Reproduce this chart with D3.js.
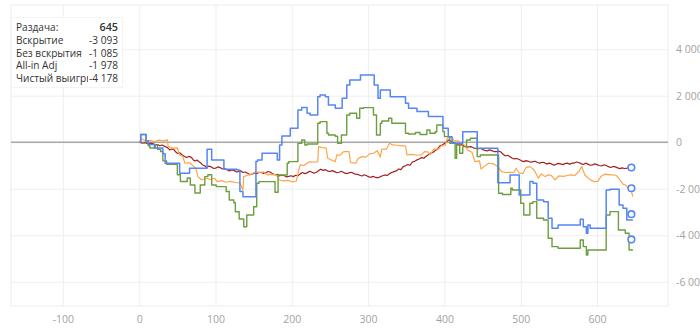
<!DOCTYPE html>
<html>
<head>
<meta charset="utf-8">
<script src="https://cdn.jsdelivr.net/npm/d3@7.9.0/dist/d3.min.js"></script>
<style>
  html, body { margin: 0; padding: 0; background: #fff; }
  #wrap { position: relative; width: 700px; height: 334px; overflow: hidden; }
  svg { display: block; }
  .axis text { font-family: "Liberation Sans Narrow", "Open Sans", sans-serif; font-size: 10.5px; fill: #a3a3a3; }
  .axis path { display: none; }
  .grid line { stroke: #efefef; stroke-width: 1; }
  .grid path { display: none; }
  .legend {
    position: absolute; left: 11px; top: 17px; width: 112px; height: 71px;
    background: rgba(255,255,255,0.85); border: 1px solid #f3f3f3; box-sizing: border-box;
    font-family: "Open Sans", sans-serif; font-size: 10.1px; color: #333; line-height: 12.8px;
    padding-top: 3px;
  }
  .legend .row { display: flex; height: 12.8px; }
  .legend .lab { width: 72px; flex: none; margin-left: 4px; overflow: hidden; white-space: nowrap; }
  .legend .val { flex: 1; text-align: right; padding-right: 4px; white-space: nowrap; }
  .legend .row:first-child .val { font-weight: 600; font-size: 10.8px; }
</style>
</head>
<body>
<div id="wrap">
<svg id="chart" width="700" height="334"></svg>
<div class="legend" id="legend"></div>
</div>
<script>
// tick labels
const xTicks = [-100, 0, 100, 200, 300, 400, 500, 600];
const yTicks = [-6000, -4000, -2000, 0, 2000, 4000];

// legend table
const legendLabels = ["Раздача:", "Вскрытие", "Без вскрытия", "All-in Adj", "Чистый выигрыш"];
const legendValues = [645, -3093, -1085, -1978, -4178];

// end markers (hand, value)
const markerHand = 645;
const markerValues = [-1085, -1978, -3093, -4178];

// series: [hand, cumulative value]
const showdown = [
  [0, 0], [2, 330], [9, 60], [12, -100], [20, -250], [31, -500], [34, -900], [50, -900],
  [53, -1330], [64, -1330], [66, -1120], [89, -300], [95, -760], [111, -1160], [128, -1190],
  [132, -2120], [136, -2340], [153, -830], [155, -760], [161, -475], [181, -760], [184, -116],
  [187, 271], [198, 602], [208, 1390], [213, 1490], [220, 1250], [224, 1174], [234, 1960],
  [237, 2034], [244, 1960], [248, 1604], [257, 1461], [266, 1891], [272, 2464], [276, 2679],
  [290, 2894], [308, 2464], [313, 1891], [316, 2249], [329, 1961], [349, 1677], [353, 1461],
  [364, 1318], [379, 1103], [398, 602], [405, 241], [410, -43], [424, 456], [443, -258],
  [470, -1737], [486, -1406], [498, -2266], [512, -1693], [516, -1763], [521, -2481],
  [530, -2553], [536, -3268], [541, -3698], [549, -3556], [578, -3311], [582, -3629],
  [586, -3913], [588, -3556], [591, -3698], [612, -2051], [617, -2021], [629, -2696],
  [634, -2838], [639, -3341], [647, -3341]
];

const netWon = [
  [0, 0], [2, 330], [9, 0], [12, -150], [14, -250], [21, -116], [24, -300], [28, -400],
  [31, -800], [36, -950], [50, -1400], [54, -1690], [63, -1540], [67, -1840], [73, -2180],
  [80, -1840], [86, -1480], [90, -1400], [95, -1840], [101, -1910], [114, -2120], [118, -2480],
  [124, -2600], [126, -2985], [131, -3300], [137, -3630], [141, -3126], [150, -2770],
  [154, -1763], [157, -1693], [178, -2150], [182, -1406], [194, -903], [196, -834], [208, -43],
  [213, 99], [217, -116], [220, -73], [234, 817], [237, 886], [246, 387], [248, 314], [257, 260],
  [260, -43], [265, 314], [272, 1174], [276, 1247], [285, 1032], [289, 1461], [294, 1490],
  [307, 1174], [311, 314], [316, 817], [318, 915], [327, 1032], [331, 817], [349, 387],
  [353, 357], [362, 420], [368, 330], [377, 529], [381, 387], [388, 450], [390, 744], [398, 456],
  [400, 241], [407, -43], [414, -688], [416, -116], [420, -473], [424, -189], [429, 99],
  [434, 172], [443, -619], [447, -546], [471, -2193], [476, -2245], [487, -1978], [489, -2051],
  [500, -2623], [504, -3126], [512, -2623], [516, -2553], [521, -3268], [530, -3341],
  [536, -4128], [541, -4489], [549, -4558], [578, -4201], [582, -4489], [586, -4846],
  [588, -4631], [612, -3126], [617, -2984], [628, -3771], [637, -3913], [642, -4631], [647, -4631]
];

const allInAdj = [
  [0, 0], [3, 150], [8, 60], [14, 80], [20, 30], [26, 90], [32, 60], [37, 100], [38, -189],
  [44, -250], [50, -245], [53, -546], [57, -600], [60, -903], [66, -880], [70, -1000],
  [74, -1105], [77, -1480], [82, -1621], [88, -1550], [94, -1600], [99, -1550], [102, -1693],
  [108, -1650], [114, -1720], [120, -1680], [126, -1730], [132, -1750], [136, -2051],
  [137, -1478], [142, -1420], [147, -1380], [152, -1277], [158, -1300], [163, -1277],
  [168, -1406], [175, -1380], [180, -1406], [183, -1600], [188, -1665], [195, -1640],
  [200, -1700], [206, -1665], [208, -1333], [211, -976], [216, -1000], [220, -900], [224, -834],
  [230, -860], [234, -834], [235, -189], [240, -230], [245, -250], [247, -688], [252, -761],
  [257, -834], [259, -546], [263, -560], [268, -404], [275, -404], [277, -880], [284, -900],
  [287, -688], [292, -619], [297, -640], [302, -500], [307, -473], [312, -370], [316, -640],
  [318, -290], [324, -300], [328, -43], [332, -116], [338, -130], [344, -160], [349, -150],
  [351, -546], [358, -520], [364, -560], [370, -546], [374, -404], [379, -420], [381, -546],
  [386, -290], [392, -300], [396, -160], [401, -140], [404, 172], [409, 241], [413, 56],
  [418, 60], [422, -43], [426, -116], [431, -350], [436, -430], [440, -834], [446, -800],
  [448, -1150], [452, -1049], [458, -903], [464, -920], [470, -1049], [475, -1264], [480, -1300],
  [487, -1290], [491, -1300], [494, -1118], [498, -1333], [503, -1340], [507, -1084],
  [512, -1049], [516, -1150], [519, -1277], [523, -1548], [527, -1363], [532, -1478],
  [536, -1400], [540, -1420], [545, -1621], [550, -1450], [556, -1470], [561, -1430],
  [566, -1400], [571, -1430], [576, -1264], [580, -1049], [584, -1406], [590, -1587],
  [596, -1693], [601, -1680], [605, -1478], [610, -1372], [615, -1390], [620, -1406],
  [625, -1420], [630, -1621], [634, -1802], [638, -1850], [641, -1978], [644, -2000], [647, -2337]
];

const nonShowdown = [
  [0, 0], [4, -43], [8, -20], [12, -80], [15, -40], [18, -60], [21, -110], [24, -100],
  [27, -150], [30, -120], [34, -189], [37, -230], [40, -331], [43, -290], [45, -300],
  [48, -420], [50, -480], [53, -450], [56, -540], [59, -600], [62, -653], [65, -610],
  [68, -640], [71, -760], [73, -804], [76, -770], [78, -830], [81, -900], [83, -976],
  [86, -1010], [88, -1084], [91, -1030], [94, -1050], [97, -1120], [100, -1118], [103, -1060],
  [106, -1090], [109, -1150], [112, -1130], [115, -1180], [118, -1234], [121, -1190],
  [124, -1210], [127, -1270], [130, -1264], [133, -1230], [136, -1300], [139, -1280],
  [142, -1333], [145, -1390], [148, -1370], [151, -1320], [154, -1350], [157, -1290],
  [160, -1300], [163, -1340], [166, -1310], [169, -1260], [172, -1290], [175, -1360],
  [178, -1400], [181, -1380], [184, -1450], [187, -1410], [190, -1430], [193, -1490],
  [196, -1470], [199, -1440], [202, -1478], [205, -1420], [208, -1440], [211, -1360],
  [214, -1300], [217, -1350], [220, -1320], [223, -1250], [226, -1280], [229, -1330],
  [232, -1300], [235, -1220], [238, -1157], [241, -1210], [244, -1180], [247, -1240],
  [250, -1256], [253, -1220], [256, -1264], [259, -1310], [262, -1290], [265, -1250],
  [268, -1300], [271, -1350], [274, -1330], [277, -1290], [280, -1320], [283, -1370],
  [286, -1380], [289, -1420], [292, -1450], [295, -1400], [298, -1440], [301, -1490],
  [304, -1500], [307, -1470], [310, -1514], [313, -1530], [316, -1480], [319, -1440],
  [322, -1406], [325, -1430], [328, -1350], [331, -1300], [334, -1264], [337, -1230],
  [340, -1150], [343, -1180], [346, -1050], [349, -1010], [352, -960], [355, -990],
  [358, -850], [361, -820], [364, -760], [367, -720], [370, -660], [373, -690], [376, -600],
  [379, -540], [382, -470], [385, -440], [388, -350], [391, -290], [394, -150], [397, -120],
  [400, -50], [403, 20], [405, 99], [409, 40], [414, -43], [417, -90], [420, -120],
  [423, -100], [426, -160], [429, -210], [432, -200], [435, -190], [438, -240], [441, -270],
  [444, -290], [447, -260], [450, -310], [453, -350], [456, -374], [459, -330], [462, -360],
  [465, -400], [468, -404], [471, -380], [474, -420], [477, -520], [480, -590], [483, -560],
  [486, -620], [489, -690], [492, -718], [495, -700], [498, -740], [501, -800], [504, -834],
  [507, -790], [510, -820], [513, -860], [516, -834], [519, -820], [522, -870], [525, -900],
  [528, -860], [531, -880], [534, -940], [537, -900], [540, -930], [543, -980], [546, -960],
  [549, -910], [552, -933], [555, -960], [558, -920], [561, -900], [564, -940], [567, -910],
  [570, -890], [573, -850], [576, -870], [579, -920], [582, -955], [585, -900], [588, -940],
  [591, -990], [594, -976], [597, -930], [600, -960], [603, -1000], [606, -1020], [609, -970],
  [612, -1000], [615, -1050], [618, -1084], [621, -1040], [624, -1060], [627, -1100],
  [630, -1135], [633, -1100], [636, -1130], [640, -1110], [644, -1049], [647, -1060]
];

const plot = { left: 11, right: 668, top: 5, bottom: 306 };

const svg = d3.select("#chart");

const x = d3.scaleLinear().domain([-168, 693]).range([plot.left, plot.right]);
const y = d3.scaleLinear().domain([-7040, 5900]).range([plot.bottom, plot.top]);

const locale = d3.formatLocale({ decimal: ",", thousands: "\u00a0", grouping: [3], currency: ["", ""], minus: "-" });
const fmt = locale.format(",d");

// grid
svg.append("g")
  .attr("class", "grid")
  .attr("transform", `translate(0,${plot.bottom})`)
  .call(d3.axisBottom(x).tickValues(xTicks).tickSize(-(plot.bottom - plot.top)).tickFormat(""));

svg.append("g")
  .attr("class", "grid")
  .attr("transform", `translate(${plot.left},0)`)
  .call(d3.axisRight(y).tickValues(yTicks).tickSize(plot.right - plot.left).tickFormat(""));

svg.append("rect")
  .attr("x", plot.left)
  .attr("y", plot.top)
  .attr("width", plot.right - plot.left)
  .attr("height", plot.bottom - plot.top)
  .attr("fill", "none")
  .attr("stroke", "#ececec");

// zero line
svg.append("line")
  .attr("x1", plot.left)
  .attr("x2", plot.right)
  .attr("y1", y(0))
  .attr("y2", y(0))
  .attr("stroke", "#a8a8a8")
  .attr("stroke-width", 1.5);

// axes
svg.append("g")
  .attr("class", "axis")
  .attr("transform", `translate(0,${plot.bottom})`)
  .call(d3.axisBottom(x).tickValues(xTicks).tickSize(0).tickPadding(10).tickFormat(fmt));

svg.append("g")
  .attr("class", "axis")
  .attr("transform", `translate(${plot.right},0)`)
  .call(d3.axisRight(y).tickValues(yTicks).tickSize(0).tickPadding(8).tickFormat(fmt));

// series
const stepLine = d3.line().x((d) => x(d[0])).y((d) => y(d[1])).curve(d3.curveStepAfter);
const plainLine = d3.line().x((d) => x(d[0])).y((d) => y(d[1]));

const series = [
  { data: nonShowdown, color: "#a21f1f", gen: plainLine, width: 1.2 },
  { data: allInAdj, color: "#ffa548", gen: plainLine, width: 1.2 },
  { data: netWon, color: "#6c9e3e", gen: stepLine, width: 1.4 },
  { data: showdown, color: "#5585f7", gen: stepLine, width: 1.5 }
];

series.forEach((s) => {
  svg.append("path")
    .attr("d", s.gen(s.data))
    .attr("fill", "none")
    .attr("stroke", s.color)
    .attr("stroke-width", s.width)
    .attr("stroke-linejoin", "round");
});

// end markers
svg.selectAll("circle.marker")
  .data(markerValues)
  .join("circle")
  .attr("class", "marker")
  .attr("cx", x(markerHand))
  .attr("cy", (d) => y(d))
  .attr("r", 3.3)
  .attr("fill", "#fff")
  .attr("stroke", "#5585f7")
  .attr("stroke-width", 1.6);

// legend table (label column clips long names)
const rows = d3.select("#legend")
  .selectAll("div.row")
  .data(d3.zip(legendLabels, legendValues))
  .join("div")
  .attr("class", "row");

rows.append("div").attr("class", "lab").text((d) => d[0]);
rows.append("div").attr("class", "val").text((d) => fmt(d[1]));
</script>
</body>
</html>
